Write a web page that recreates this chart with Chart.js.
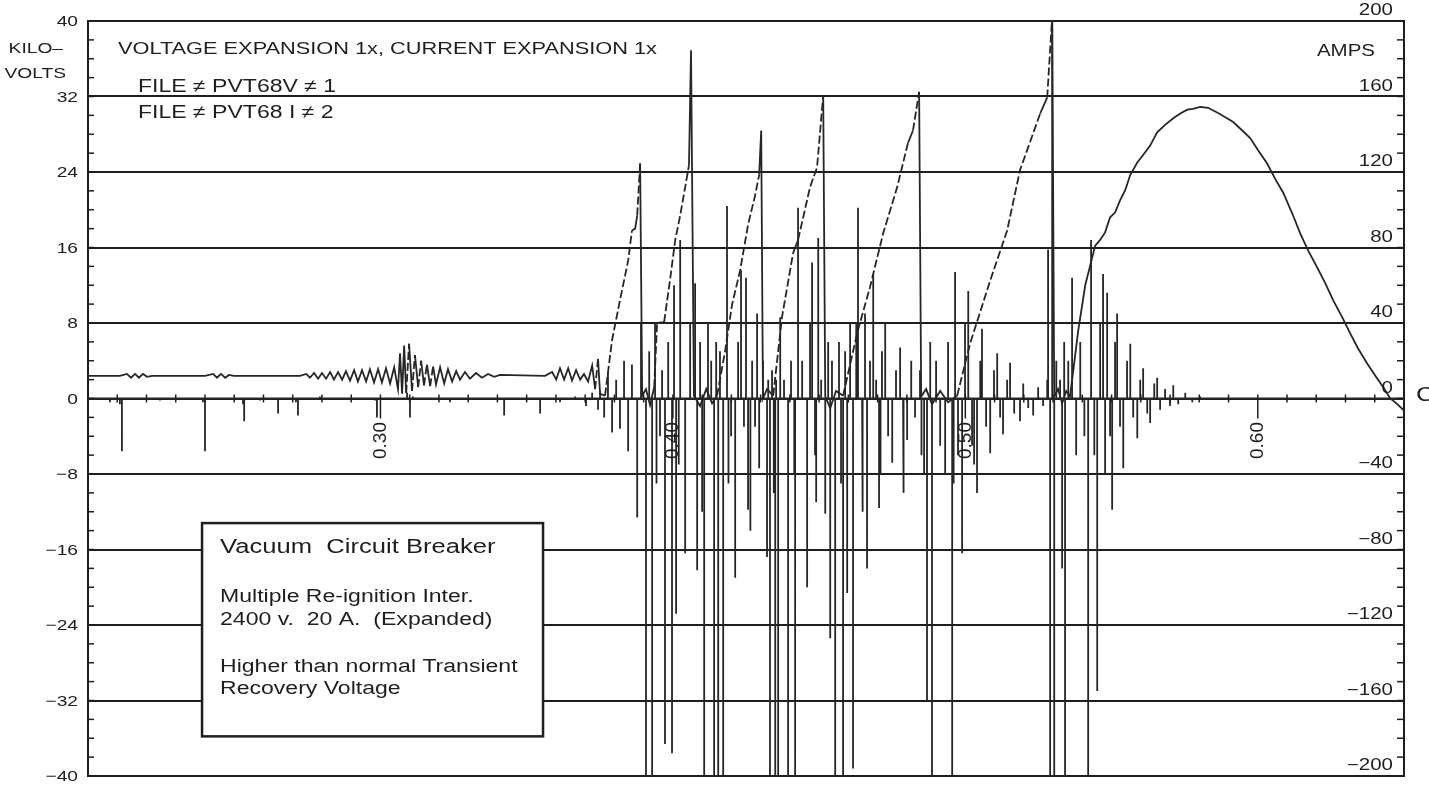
<!DOCTYPE html>
<html>
<head>
<meta charset="utf-8">
<script src="https://cdn.jsdelivr.net/npm/chart.js@4.4.1/dist/chart.umd.min.js"></script>
<style>
  html, body { margin: 0; padding: 0; background: #fff; }
  #wrap { width: 1429px; height: 788px; }
</style>
</head>
<body>
<div id="wrap"><canvas id="trace" width="1429" height="788"></canvas></div>
<script>
// time axis (as printed on the recorder chart)
const timeTicks = [0.30, 0.40, 0.50, 0.60];
const timeLabels = ["0.30", "0.40", "0.50", "0.60"];
const kvTicks = [40, 32, 24, 16, 8, 0, -8, -16, -24, -32, -40];
const ampTicks = [200, 160, 120, 80, 40, 0, -40, -80, -120, -160, -200];

const headerLines = [
  "VOLTAGE EXPANSION 1x, CURRENT EXPANSION 1x",
  "FILE \u2260 PVT68V \u2260 1",
  "FILE \u2260 PVT68 I \u2260 2"
];
const boxLines = [
  "Vacuum  Circuit Breaker",
  "Multiple Re-ignition Inter.",
  "2400 v.  20 A.  (Expanded)",
  "Higher than normal Transient",
  "Recovery Voltage"
];

// [time, kV]  - recovery voltage trace
const voltageTrace = [
  [0.2000,2.4],[0.2109,2.4],[0.2133,2.6],[0.2147,2.2],[0.2161,2.6],[0.2174,2.2],[0.2188,2.6],[0.2202,2.3],[0.2219,2.4],
  [0.2400,2.4],[0.2428,2.6],[0.2441,2.2],[0.2455,2.6],[0.2469,2.2],[0.2482,2.5],[0.2499,2.4],
  [0.2725,2.4],[0.2746,2.6],[0.2759,2.2],[0.2773,2.7],[0.2787,2.1],[0.2800,2.7],[0.2814,2.1],[0.2828,2.8],[0.2841,2.0],
  [0.2855,2.8],[0.2869,2.0],[0.2882,2.9],[0.2896,1.9],[0.2910,3.0],[0.2923,1.8],[0.2937,3.0],[0.2951,1.8],[0.2964,3.1],
  [0.2978,1.7],[0.2992,3.1],[0.3005,1.7],[0.3019,3.2],[0.3033,1.6],[0.3047,3.3],[0.3060,1.0],[0.3067,4.8],[0.3074,0.5],
  [0.3081,5.6],[0.3088,0.6],[0.3098,5.8],[0.3108,0.8],[0.3118,4.6],[0.3129,1.2],[0.3139,4.0],[0.3149,1.4],[0.3159,3.6],
  [0.3170,1.3],[0.3180,3.4],[0.3190,1.5],[0.3204,3.3],[0.3218,1.6],[0.3231,3.1],[0.3245,1.8],[0.3259,2.9],[0.3272,2.0],
  [0.3289,2.8],[0.3306,2.1],[0.3327,2.7],[0.3347,2.2],[0.3368,2.6],[0.3389,2.3],[0.3409,2.5],[0.3563,2.4],[0.3587,2.8],
  [0.3601,2.0],[0.3614,3.2],[0.3628,2.0],[0.3642,3.2],[0.3655,1.9],[0.3669,3.0],[0.3683,2.0],[0.3696,2.6],[0.3710,1.8],
  [0.3724,3.5],[0.3734,1.0],[0.3744,4.2],[0.3751,0.5],
  [0.3768,0.3],[0.3792,6.2],[0.3819,10.4],[0.3847,14.6],[0.3860,17.8],[0.3871,18.0],[0.3878,19.4],[0.3888,24.9],[0.3895,0.3],
  [0.3908,1.0],[0.3922,-0.7],[0.3936,1.2],[0.3946,8.0],[0.3970,8.1],[0.3990,12.5],[0.4008,16.8],[0.4025,19.4],[0.4042,22.4],
  [0.4055,24.7],[0.4062,36.9],[0.4072,0.3],[0.4093,-0.8],[0.4114,1.0],[0.4134,-0.5],[0.4151,0.3],[0.4179,5.1],[0.4202,9.9],
  [0.4230,13.6],[0.4257,18.4],[0.4281,21.5],[0.4295,23.7],[0.4302,28.4],[0.4308,0.0],[0.4322,1.0],[0.4343,0.3],[0.4373,8.6],
  [0.4411,15.4],[0.4428,16.8],[0.4469,22.4],[0.4493,24.5],[0.4514,32.1],[0.4521,0.2],[0.4538,-1.0],[0.4558,0.8],[0.4582,0.3],
  [0.4630,6.9],[0.4674,11.8],[0.4719,17.5],[0.4767,22.4],[0.4804,27.1],[0.4821,28.4],[0.4842,32.5],[0.4849,0.2],[0.4866,1.0],
  [0.4886,-0.6],[0.4914,0.8],[0.4941,-0.4],[0.4972,0.3],[0.5016,5.8],[0.5085,12.5],[0.5143,17.8],[0.5187,24.2],[0.5256,30.2],
  [0.5280,31.9],[0.5297,40.5],[0.5304,0.2],[0.5317,1.0],[0.5331,-0.5],[0.5345,0.8],[0.5358,0.2],[0.5386,7.2],[0.5410,12.0],
  [0.5427,14.1],[0.5444,16.2],[0.5461,16.8],[0.5478,17.6],[0.5495,19.2],[0.5512,19.7],[0.5529,21.0],[0.5547,22.1],[0.5564,23.7],
  [0.5588,25.0],[0.5608,25.8],[0.5632,26.8],[0.5656,28.2],[0.5683,29.0],[0.5711,29.7],[0.5735,30.2],[0.5759,30.6],[0.5779,30.7],
  [0.5803,30.9],[0.5830,30.8],[0.5861,30.3],[0.5889,29.8],[0.5916,29.3],[0.5947,28.4],[0.5974,27.6],[0.6001,26.3],[0.6032,24.9],
  [0.6059,23.3],[0.6087,21.8],[0.6118,19.6],[0.6145,17.5],[0.6172,15.7],[0.6203,13.9],[0.6231,12.2],[0.6258,10.4],[0.6289,8.6],
  [0.6316,6.9],[0.6343,5.3],[0.6374,3.7],[0.6402,2.4],[0.6429,1.2],[0.6453,0.0],[0.6477,-0.6],[0.6501,-1.3]
];

// [time, A]  - current trace, one entry per spike
const currentSpikes = [
  [0.2000,0],[0.2041,0],[0.2075,-2],[0.2096,0],[0.2109,-3],[0.2116,-28],[0.2123,0],[0.2178,0],[0.2246,-1],[0.2315,0],
  [0.2393,-2],[0.2400,-28],[0.2407,0],[0.2469,0],[0.2530,-3],[0.2534,-12],[0.2540,0],[0.2588,-1],[0.2646,0],[0.2650,-8],
  [0.2657,0],[0.2711,-2],[0.2718,-9],[0.2728,0],[0.2793,1],[0.2862,0],[0.2981,-1],[0.2988,-10],[0.2995,0],[0.3050,0],
  [0.3091,3],[0.3101,-10],[0.3111,1],[0.3170,0],[0.3238,-2],[0.3306,0],[0.3416,0],[0.3423,-9],[0.3430,0],[0.3539,0],
  [0.3546,-8],[0.3553,0],[0.3614,-2],[0.3666,1],[0.3703,-4],[0.3724,3],[0.3744,-6],
  [0.3751,4],[0.3765,-10],[0.3778,14],[0.3792,-18],[0.3806,10],[0.3819,-16],[0.3833,20],[0.3847,-28],[0.3860,18],[0.3878,-63],
  [0.3891,40],[0.3908,-200],[0.3919,25],[0.3929,-200],[0.3939,40],[0.3944,-45],[0.3956,-20],[0.3963,15],[0.3973,-183],[0.3984,30],[0.3997,-188],
  [0.4004,60],[0.4011,-114],[0.4020,-35],[0.4025,84],[0.4042,-82],[0.4059,40],[0.4076,61],[0.4083,-91],[0.4093,30],[0.4100,-60],[0.4107,-200],[0.4120,40],
  [0.4131,20],[0.4141,-200],[0.4148,30],[0.4155,-200],[0.4161,25],[0.4172,-200],[0.4185,102],[0.4190,-45],[0.4199,-20],[0.4213,-95],[0.4223,30],
  [0.4233,68],[0.4243,-15],[0.4250,64],[0.4257,-59],[0.4265,-70],[0.4271,20],[0.4281,-15],[0.4288,45],[0.4295,-37],[0.4308,20],[0.4322,-84],
  [0.4326,10],[0.4332,-200],[0.4339,15],[0.4345,-50],[0.4350,-200],[0.4353,10],[0.4360,-200],[0.4367,43],[0.4380,10],[0.4394,-200],[0.4404,20],
  [0.4415,-40],[0.4418,-200],[0.4428,101],[0.4442,20],[0.4459,-100],[0.4469,40],[0.4476,72],[0.4486,-30],[0.4490,-55],[0.4497,85],[0.4507,10],[0.4521,-61],
  [0.4531,30],[0.4538,-127],[0.4544,20],[0.4555,-200],[0.4568,30],[0.4575,-45],[0.4582,-200],[0.4589,25],[0.4596,-103],[0.4606,40],[0.4616,-196],
  [0.4627,40],[0.4633,101],[0.4647,-30],[0.4650,-60],[0.4657,45],[0.4664,-90],[0.4674,20],[0.4685,66],[0.4695,10],[0.4705,-58],[0.4710,-40],[0.4715,25],
  [0.4726,40],[0.4736,-20],[0.4750,-34],[0.4763,15],[0.4777,27],[0.4787,-15],[0.4790,-50],[0.4801,-22],[0.4815,20],[0.4828,-10],[0.4845,15],
  [0.4850,-30],[0.4859,-40],[0.4869,-160],[0.4880,30],[0.4886,-200],[0.4900,20],[0.4914,-25],[0.4931,-40],[0.4941,30],[0.4955,-200],[0.4960,-45],[0.4965,67],
  [0.4975,-30],[0.4989,-82],[0.4999,40],[0.5010,57],[0.5023,-25],[0.5030,-35],[0.5040,-50],[0.5051,20],[0.5057,37],[0.5071,-15],[0.5085,-29],
  [0.5098,15],[0.5109,24],[0.5119,-10],[0.5129,-19],[0.5143,10],[0.5153,19],[0.5167,-8],[0.5187,-12],[0.5198,8],[0.5215,-5],
  [0.5232,-9],[0.5249,6],[0.5266,-4],[0.5280,10],[0.5283,79],[0.5290,-200],[0.5297,200],[0.5304,-200],[0.5311,20],[0.5324,10],
  [0.5331,-90],[0.5338,30],[0.5341,-200],[0.5352,20],[0.5365,64],[0.5379,-30],[0.5393,30],[0.5407,-20],[0.5420,-200],[0.5430,84],
  [0.5441,-30],[0.5451,-155],[0.5461,40],[0.5471,66],[0.5478,-40],[0.5485,56],[0.5495,-20],[0.5502,-59],[0.5512,30],[0.5519,45],
  [0.5529,-15],[0.5540,-37],[0.5553,20],[0.5564,29],[0.5574,-10],[0.5588,-21],[0.5598,10],[0.5608,16],[0.5622,-8],[0.5632,-13],
  [0.5646,8],[0.5656,11],[0.5666,-6],[0.5683,5],[0.5700,-4],[0.5711,7],[0.5728,-3],[0.5752,3],[0.5776,-2],[0.5803,1],
  [0.5854,0],[0.6001,0],[0.6501,0]
];

const INK = "#1e1e1e";
const FONT = '"Liberation Sans", Arial, sans-serif';

function stretchText(ctx, str, x, y, size, align) {
  ctx.save();
  ctx.translate(x, y);
  ctx.scale(1.28, 1);
  ctx.font = size + "px " + FONT;
  ctx.textAlign = align;
  ctx.textBaseline = "middle";
  ctx.fillStyle = INK;
  ctx.fillText(str, 0, 0);
  ctx.restore();
}

function stroke(ctx, x1, y1, x2, y2) {
  ctx.beginPath();
  ctx.moveTo(x1, y1);
  ctx.lineTo(x2, y2);
  ctx.stroke();
}

function minus(v) {
  return String(v).replace("-", "\u2212");
}

const paperMarks = {
  id: "paperMarks",
  afterDatasetsDraw(chart) {
    const ctx = chart.ctx;
    const { left, right } = chart.chartArea;
    const sx = chart.scales.x, sy = chart.scales.y, sa = chart.scales.yA;
    ctx.save();
    ctx.strokeStyle = INK;
    ctx.lineWidth = 1.5;

    // minor ticks on both vertical axes
    for (let v = -40; v <= 40; v += 2) {
      const y = sy.getPixelForValue(v);
      stroke(ctx, left, y, left + 6, y);
    }
    for (let a = -200; a <= 200; a += 10) {
      const y = sa.getPixelForValue(a);
      stroke(ctx, right - 7, y, right, y);
    }

    // time ticks along the zero line
    const y0 = sy.getPixelForValue(0);
    for (let i = 1; i < 45; i++) {
      const x = sx.getPixelForValue(0.2 + i * 0.01);
      const major = i % 10 === 0;
      stroke(ctx, x, y0 - 4, x, y0 + (major ? 20 : 4));
    }

    // annotation box (covers the grid lines)
    const bx1 = sx.getPixelForValue(0.2390), bx2 = sx.getPixelForValue(0.3556);
    const by1 = sy.getPixelForValue(-13.2), by2 = sy.getPixelForValue(-35.8);
    ctx.fillStyle = "#fff";
    ctx.fillRect(bx1, by1, bx2 - bx1, by2 - by1);
    ctx.lineWidth = 2.5;
    ctx.strokeRect(bx1, by1, bx2 - bx1, by2 - by1);

    const tx = bx1 + 18;
    stretchText(ctx, boxLines[0], tx, by1 + 24, 20, "left");
    stretchText(ctx, boxLines[1], tx, by1 + 74, 18, "left");
    stretchText(ctx, boxLines[2], tx, by1 + 97, 18, "left");
    stretchText(ctx, boxLines[3], tx, by1 + 144, 18, "left");
    stretchText(ctx, boxLines[4], tx, by1 + 166, 18, "left");
    ctx.restore();
  },
  afterDraw(chart) {
    const ctx = chart.ctx;
    const { left, right } = chart.chartArea;
    const sx = chart.scales.x, sy = chart.scales.y, sa = chart.scales.yA;

    // left axis labels
    kvTicks.forEach((v) => {
      stretchText(ctx, minus(v), left - 10, sy.getPixelForValue(v) + 1, 15, "right");
    });
    stretchText(ctx, "KILO\u2013", left - 25, 49, 15, "right");
    stretchText(ctx, "VOLTS", left - 22, 74, 15, "right");

    // right axis labels, sitting just above each line
    ampTicks.forEach((a) => {
      stretchText(ctx, minus(a), right - 11, sa.getPixelForValue(a) - 10, 16, "right");
    });
    stretchText(ctx, "AMPS", right - 29, 52, 16, "right");

    // time labels, rotated below the zero line
    const y0 = sy.getPixelForValue(0);
    timeTicks.forEach((t, i) => {
      ctx.save();
      ctx.translate(sx.getPixelForValue(t), y0 + 42);
      ctx.rotate(-Math.PI / 2);
      ctx.font = "19px " + FONT;
      ctx.textAlign = "center";
      ctx.textBaseline = "middle";
      ctx.fillStyle = INK;
      ctx.fillText(timeLabels[i], 0, 0);
      ctx.restore();
    });

    // header text
    stretchText(ctx, headerLines[0], left + 30, 49, 17, "left");
    stretchText(ctx, headerLines[1], left + 50, 87, 18, "left");
    stretchText(ctx, headerLines[2], left + 50, 113, 18, "left");
    stretchText(ctx, "C", right + 12, y0 - 3, 20, "left");
  }
};

// each current spike is drawn as a vertical stroke off the zero line
const currentPoints = currentSpikes
  .slice()
  .sort((a, b) => a[0] - b[0])
  .flatMap(([t, a]) => [{ x: t, y: 0 }, { x: t, y: a }, { x: t, y: 0 }]);

new Chart(document.getElementById("trace"), {
  type: "line",
  data: {
    datasets: [
      {
        label: "Voltage (kV)",
        data: voltageTrace.map((p) => ({ x: p[0], y: p[1] })),
        yAxisID: "y",
        borderColor: "#262626",
        borderWidth: 1.8,
        pointRadius: 0,
        tension: 0,
        segment: {
          // rising recovery ramps print as broken lines on the record
          borderDash: (c) =>
            c.p1.parsed.y - c.p0.parsed.y > 2 && c.p1.parsed.x < 0.536 && c.p1.parsed.x - c.p0.parsed.x > 0.0009
              ? [8, 3]
              : undefined,
        },
      },
      {
        label: "Current (A)",
        data: currentPoints,
        yAxisID: "yA",
        borderColor: "#262626",
        borderWidth: 1.8,
        pointRadius: 0,
        tension: 0,
      },
    ],
  },
  options: {
    responsive: false,
    devicePixelRatio: 1,
    animation: false,
    layout: { padding: { left: 88, top: 21, right: 25, bottom: 12 } },
    plugins: {
      legend: { display: false },
      tooltip: { enabled: false },
    },
    scales: {
      x: { type: "linear", min: 0.2, max: 0.65, display: false },
      y: {
        position: "left",
        min: -40,
        max: 40,
        ticks: { display: false, stepSize: 8 },
        grid: { color: INK, lineWidth: 2, drawTicks: false },
        border: { display: true, color: INK, width: 2 },
      },
      yA: {
        position: "right",
        min: -200,
        max: 200,
        ticks: { display: false, stepSize: 40 },
        grid: { display: false, drawTicks: false },
        border: { display: true, color: INK, width: 2 },
      },
    },
  },
  plugins: [paperMarks],
});
</script>
</body>
</html>
